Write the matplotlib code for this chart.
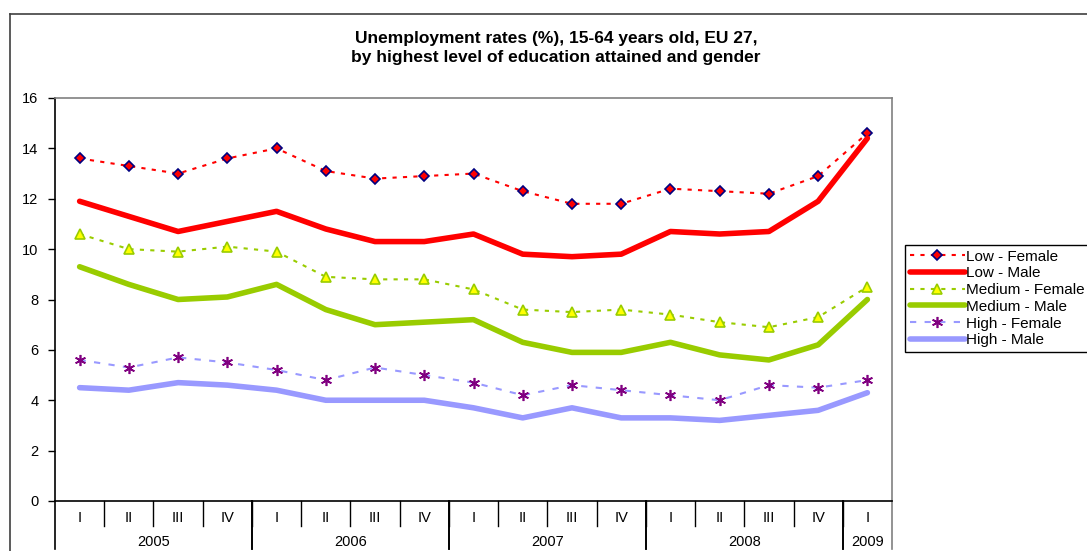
import matplotlib.pyplot as plt
from matplotlib.lines import Line2D

plt.rcParams["font.family"] = ["Liberation Sans", "DejaVu Sans"]

quarters = ["I", "II", "III", "IV"] * 4 + ["I"]
years = ["2005", "2006", "2007", "2008", "2009"]
year_spans = [(0, 4), (4, 8), (8, 12), (12, 16), (16, 17)]

low_female = [13.6, 13.3, 13.0, 13.6, 14.0, 13.1, 12.8, 12.9, 13.0, 12.3, 11.8, 11.8, 12.4, 12.3, 12.2, 12.9, 14.6]
low_male = [11.9, 11.3, 10.7, 11.1, 11.5, 10.8, 10.3, 10.3, 10.6, 9.8, 9.7, 9.8, 10.7, 10.6, 10.7, 11.9, 14.4]
medium_female = [10.6, 10.0, 9.9, 10.1, 9.9, 8.9, 8.8, 8.8, 8.4, 7.6, 7.5, 7.6, 7.4, 7.1, 6.9, 7.3, 8.5]
medium_male = [9.3, 8.6, 8.0, 8.1, 8.6, 7.6, 7.0, 7.1, 7.2, 6.3, 5.9, 5.9, 6.3, 5.8, 5.6, 6.2, 8.0]
high_female = [5.6, 5.3, 5.7, 5.5, 5.2, 4.8, 5.3, 5.0, 4.7, 4.2, 4.6, 4.4, 4.2, 4.0, 4.6, 4.5, 4.8]
high_male = [4.5, 4.4, 4.7, 4.6, 4.4, 4.0, 4.0, 4.0, 3.7, 3.3, 3.7, 3.3, 3.3, 3.2, 3.4, 3.6, 4.3]

W, H = 1087, 551
fig = plt.figure(figsize=(W / 100, H / 100), dpi=100)
ax = fig.add_axes([55 / W, (H - 501) / H, (892 - 55) / W, (501 - 98) / H])

x = [i + 0.5 for i in range(len(quarters))]
dot = (0, (2, 3))

ax.plot(x, low_female, color="red", lw=1.5, ls=dot, marker="D", ms=5.5,
        mfc="red", mec="#000080", mew=1.2, label="Low - Female")
ax.plot(x, low_male, color="red", lw=4, solid_capstyle="round", label="Low - Male")
ax.plot(x, medium_female, color="#99CC00", lw=1.5, ls=dot, marker="^", ms=7,
        mfc="#FFFF00", mec="#99CC00", mew=1.2, label="Medium - Female")
ax.plot(x, medium_male, color="#99CC00", lw=4, solid_capstyle="round", label="Medium - Male")
ax.plot(x, high_female, color="#9999FF", lw=1.5, ls=(0, (3, 4)), marker=(6, 2, 0), ms=8,
        mfc="#800080", mec="#800080", mew=1.2, label="High - Female")
ax.plot(x, high_male, color="#9999FF", lw=4, solid_capstyle="round", label="High - Male")

ax.set_xlim(0, len(quarters))
ax.set_ylim(0, 16)
ax.set_yticks(range(0, 17, 2))
ax.tick_params(axis="y", direction="out", length=5, width=1, labelsize=10.5, pad=7)
ax.set_xticks([])

ax.spines["left"].set_color("black")
ax.spines["bottom"].set_color("black")
ax.spines["left"].set_linewidth(1.2)
ax.spines["bottom"].set_linewidth(1.2)
for s in ["top", "right"]:
    ax.spines[s].set_color("#808080")
    ax.spines[s].set_linewidth(1.2)

# category axis: quarter labels, year labels and separators
tr = ax.get_xaxis_transform()
for i, q in enumerate(quarters):
    ax.text(i + 0.5, -0.042, q, transform=tr, ha="center", va="center", fontsize=10.5)
for i in range(1, len(quarters)):
    ax.plot([i, i], [0, -0.062], transform=tr, color="black", lw=1, clip_on=False)
for (a, b), yr in zip(year_spans, years):
    ax.text((a + b) / 2, -0.102, yr, transform=tr, ha="center", va="center", fontsize=10.5)
    for edge in (a, b):
        ax.plot([edge, edge], [0, -0.12], transform=tr, clip_on=False,
                color="black" if edge < len(quarters) else "#808080", lw=1.2)

fig.suptitle("Unemployment rates (%), 15-64 years old, EU 27,\n"
             "by highest level of education attained and gender",
             x=556 / W, y=1 - 31 / H, va="top", fontsize=12.5, fontweight="bold",
             linespacing=1.3)

fig.legend(loc="upper left", bbox_to_anchor=(905 / W, 1 - 245 / H), frameon=True,
           fancybox=False, edgecolor="black", fontsize=11, numpoints=1,
           handlelength=3.6, handletextpad=0.1, labelspacing=0.18,
           borderpad=0.3, borderaxespad=0, framealpha=1)

# outer chart frame
fig.add_artist(Line2D([10 / W, 10 / W], [0, 1 - 14 / H], color="#404040", lw=1.2))
fig.add_artist(Line2D([10 / W, 1], [1 - 14 / H, 1 - 14 / H], color="#404040", lw=1.2))

fig.savefig("out.png", dpi=100)
